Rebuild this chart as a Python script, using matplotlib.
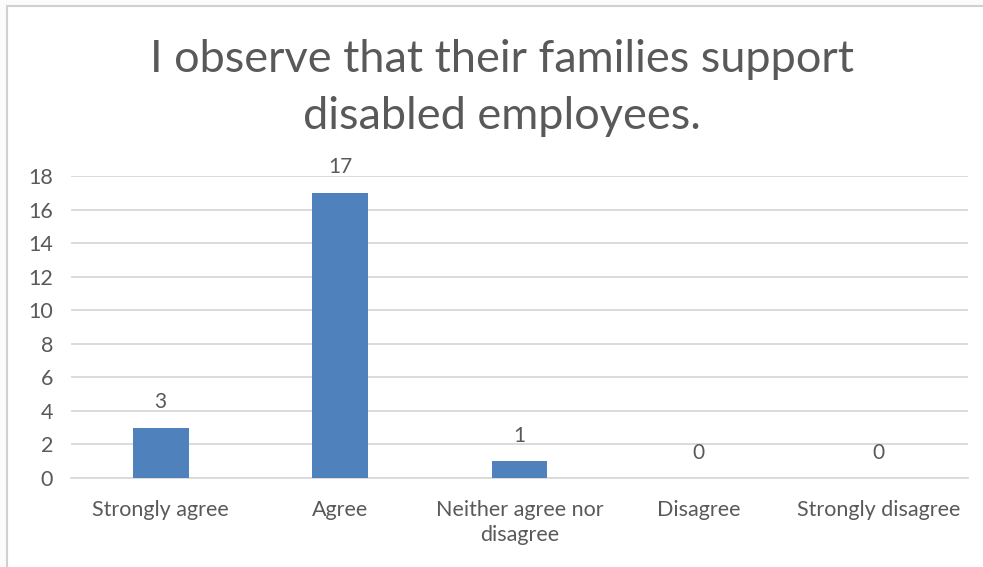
import matplotlib.pyplot as plt
from matplotlib.patches import Rectangle

plt.rcParams['font.family'] = ['Lato', 'DejaVu Sans']

categories = ["Strongly agree", "Agree", "Neither agree nor\ndisagree", "Disagree", "Strongly disagree"]
counts = [3, 17, 1, 0, 0]
yticks = [0, 2, 4, 6, 8, 10, 12, 14, 16, 18]

text_col = "#595959"
bar_col = "#4F81BD"
grid_col = "#D9D9D9"

fig = plt.figure(figsize=(9.83, 5.67), dpi=100)
fig.patch.set_facecolor("#FBFBFB")

# chart area (white box with thin gray border)
box = Rectangle((7 / 983, -0.1), 1.1, 1 - 6 / 567 + 0.1,
                transform=fig.transFigure, facecolor="white",
                edgecolor="#D0D0D0", linewidth=1.5)
fig.add_artist(box)
box.set_zorder(-5)

ax = fig.add_axes([71 / 983, 1 - 478 / 567, (968 - 71) / 983, (478 - 176) / 567])
ax.set_facecolor("none")
ax.set_zorder(2)

x = range(len(categories))
bars = ax.bar(x, counts, width=0.31, color=bar_col, zorder=3)

for xi, v in zip(x, counts):
    ax.annotate(str(v), (xi, v), xytext=(0, 11), textcoords="offset points",
                ha="center", va="bottom", fontsize=15, color=text_col)

ax.set_xlim(-0.5, len(categories) - 0.5)
ax.set_ylim(0, 18)
ax.set_yticks(yticks)
ax.yaxis.grid(True, color=grid_col, linewidth=1.3, zorder=0)
ax.set_axisbelow(True)
ax.set_xticks(list(x))
ax.set_xticklabels(categories, fontsize=15.5, color=text_col, linespacing=1.3)
ax.tick_params(axis="y", labelsize=15.5, labelcolor=text_col, length=0, pad=13)
ax.tick_params(axis="x", length=0, pad=16)
for s in ["top", "right", "left"]:
    ax.spines[s].set_visible(False)
ax.spines["bottom"].set_color(grid_col)
ax.spines["bottom"].set_linewidth(1.3)

fig.text(502 / 983, 1 - 88 / 567, "I observe that their families support\ndisabled employees.",
         ha="center", va="center", fontsize=32.5, color=text_col, linespacing=1.5)

fig.savefig("out.png", dpi=100, facecolor=fig.get_facecolor())
